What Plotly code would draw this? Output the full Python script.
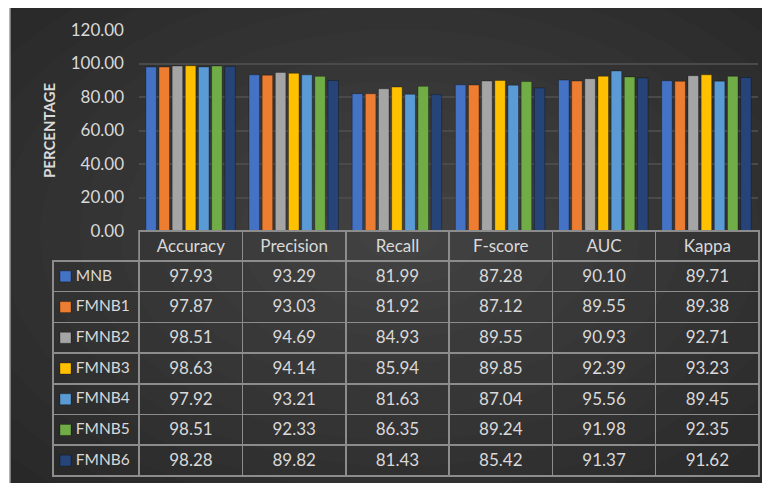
import plotly.graph_objects as go

W, H = 770, 483

metrics = ['Accuracy', 'Precision', 'Recall', 'F-score', 'AUC', 'Kappa']
series_names = ['MNB', 'FMNB1', 'FMNB2', 'FMNB3', 'FMNB4', 'FMNB5', 'FMNB6']
MNB = [97.93, 93.29, 81.99, 87.28, 90.10, 89.71]
FMNB1 = [97.87, 93.03, 81.92, 87.12, 89.55, 89.38]
FMNB2 = [98.51, 94.69, 84.93, 89.55, 90.93, 92.71]
FMNB3 = [98.63, 94.14, 85.94, 89.85, 92.39, 93.23]
FMNB4 = [97.92, 93.21, 81.63, 87.04, 95.56, 89.45]
FMNB5 = [98.51, 92.33, 86.35, 89.24, 91.98, 92.35]
FMNB6 = [98.28, 89.82, 81.43, 85.42, 91.37, 91.62]
series_values = [MNB, FMNB1, FMNB2, FMNB3, FMNB4, FMNB5, FMNB6]
colors = ['#4472C4', '#ED7D31', '#A5A5A5', '#FFC000', '#5B9BD5', '#70AD47', '#264478']
ytick_vals = [0, 20, 40, 60, 80, 100, 120]
ytick_text = ['%.2f' % v for v in ytick_vals]

# the page body adds an 8px offset; positions below are in screen pixels
OFF = 8


def px(x):
    return (x - OFF) / W


def py(y):
    return 1 - (y - OFF) / H


FONT = 'Lato'
TXT = '#d9d9d9'
GRID = '#8c8c8c'
NB = '\u00a0'

fig = go.Figure()

for name, vals, c in zip(series_names, series_values, colors):
    fig.add_trace(go.Bar(
        x=metrics, y=vals, name=name,
        marker=dict(color=c, line=dict(color='rgba(0,0,0,0.3)', width=1)),
        showlegend=False, hoverinfo='x+y+name'))

# data table
header_vals = [''] + metrics
label_col = [NB * 3 + '\u2009\u200a' + n for n in series_names]
cols = [label_col]
for j in range(len(metrics)):
    cols.append(['%.2f' % series_values[i][j] for i in range(len(series_names))])

fig.add_trace(go.Table(
    domain=dict(x=[px(53), px(759)], y=[py(481), py(231)]),
    columnwidth=[86, 103, 103, 103, 103, 103, 103],
    header=dict(values=header_vals, height=30,
                fill=dict(color='rgba(0,0,0,0)'),
                line=dict(color=['rgba(0,0,0,0)'] + [GRID] * 6, width=1.5),
                font=dict(family=FONT, size=17, color=TXT), align='center'),
    cells=dict(values=cols, height=30.7,
               fill=dict(color='rgba(0,0,0,0)'),
               line=dict(color=GRID, width=1.5),
               font=dict(family=FONT, size=[15.5] + [17] * 6, color=TXT),
               align=['left'] + ['center'] * 6),
))

# legend keys (coloured squares) inside the table's first column
fig.add_trace(go.Scatter(
    x=[0] * len(series_names), y=series_names, mode='markers',
    marker=dict(symbol='square', size=11, color=colors,
                line=dict(width=0.8, color='rgba(0,0,0,0.35)')),
    xaxis='x2', yaxis='y2', showlegend=False, hoverinfo='skip'))

shapes = []
shapes.append(dict(type='rect', xref='paper', yref='paper', x0=px(10), x1=1.05, y0=-0.05, y1=py(7),
                   fillcolor='#262626', line=dict(width=0), layer='below'))
N = 14
for i in range(N):
    f = 1 - i / N
    rx, ry = 560 * f, 360 * f
    cx, cy = 400, 235
    shapes.append(dict(type='circle', xref='paper', yref='paper',
                       x0=px(cx - rx), x1=px(cx + rx), y0=py(cy + ry), y1=py(cy - ry),
                       fillcolor='rgba(255,255,255,0.013)', line=dict(width=0), layer='below'))
shapes.append(dict(type='rect', xref='paper', yref='paper', x0=-0.05, x1=px(10), y0=-0.05, y1=1.05,
                   fillcolor='white', line=dict(width=0), layer='below'))
shapes.append(dict(type='rect', xref='paper', yref='paper', x0=-0.05, x1=1.05, y0=py(7), y1=1.05,
                   fillcolor='white', line=dict(width=0), layer='below'))
shapes.append(dict(type='line', xref='paper', yref='paper', x0=px(10), x1=1.05, y0=py(7), y1=py(7),
                   line=dict(color='#9a9a9a', width=1.5), layer='below'))
shapes.append(dict(type='line', xref='paper', yref='paper', x0=px(10), x1=px(10), y0=-0.05, y1=py(7),
                   line=dict(color='#9a9a9a', width=1.5), layer='below'))

fig.update_layout(
    width=W, height=H,
    margin=dict(l=0, r=0, t=0, b=0, autoexpand=False),
    paper_bgcolor='white', plot_bgcolor='rgba(0,0,0,0)',
    barmode='group', bargap=0.107, bargroupgap=0.2,
    shapes=shapes,
    font=dict(family=FONT, color=TXT),
    xaxis=dict(domain=[px(139), px(758)], range=[-0.5, 5.5], showticklabels=False,
               showgrid=False, zeroline=False, automargin=False),
    yaxis=dict(domain=[py(231), py(30)], range=[0, 120], tickvals=ytick_vals, ticktext=ytick_text,
               tickfont=dict(family=FONT, size=17, color=TXT), ticklabelstandoff=14,
               showgrid=True, gridcolor='#4a4a4a', gridwidth=1.5, zeroline=False, automargin=False),
    xaxis2=dict(domain=[px(53), px(139)], range=[-1.25, 7.35], visible=False, automargin=False),
    yaxis2=dict(domain=[py(476), py(261)], type='category', categoryorder='array',
                categoryarray=series_names, range=[6.5, -0.5],
                visible=False, automargin=False),
    annotations=[dict(text='<b>PERCENTAGE</b>', xref='paper', yref='paper', x=px(49), y=py(131),
                      textangle=-90, showarrow=False, font=dict(family=FONT, size=15, color=TXT),
                      xanchor='center', yanchor='middle')],
)

fig.write_html('out.html')
